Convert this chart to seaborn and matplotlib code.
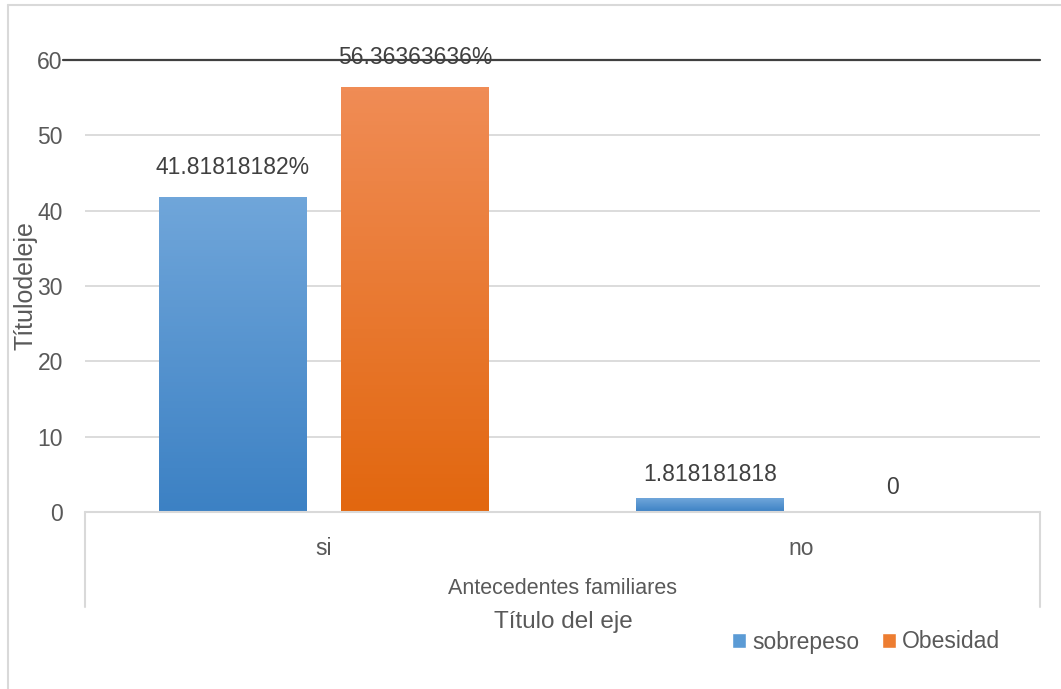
import numpy as np
import pandas as pd
import matplotlib
matplotlib.use("Agg")
import matplotlib.pyplot as plt
import seaborn as sns
from matplotlib.lines import Line2D
from matplotlib.patches import Patch
from matplotlib.colors import LinearSegmentedColormap

# data
categories = ["si", "no"]
series = ["sobrepeso", "Obesidad"]
sobrepeso = [41.81818182, 1.818181818]
obesidad = [56.36363636, 0]
labels_sobrepeso = ["41.81818182%", "1.818181818"]
labels_obesidad = ["56.36363636%", "0"]
yticks = [0, 10, 20, 30, 40, 50, 60]

df = pd.DataFrame({
    "cat": categories * 2,
    "serie": [series[0]] * 2 + [series[1]] * 2,
    "val": sobrepeso + obesidad,
})

sns.set_style("white")
plt.rcParams["font.family"] = ["Liberation Sans", "DejaVu Sans"]

W, H = 1061, 689
fig = plt.figure(figsize=(W / 100, H / 100), dpi=100)
ax = fig.add_axes([85 / W, 1 - 512 / H, (1040 - 85) / W, (512 - 60) / H])

flat = {"sobrepeso": "#5b9bd5", "Obesidad": "#ed7d31"}
grad = {"sobrepeso": ("#3c81c4", "#70a6da"), "Obesidad": ("#e2670f", "#f08c55")}

sns.barplot(data=df, x="cat", y="val", hue="serie", hue_order=series,
            order=categories, palette=flat, width=0.764, gap=0.19,
            legend=False, ax=ax, zorder=3)

ax.set_yticks(yticks)
for y in yticks[1:-1]:
    ax.axhline(y, color="#d9d9d9", lw=1.3, zorder=1)
ax.axhline(60, xmin=-0.023, xmax=1, color="#404040", lw=1.6, clip_on=False, zorder=4)
for s in ax.spines.values():
    s.set_visible(False)
ax.tick_params(axis="both", length=0, labelsize=16.5, labelcolor="#595959")
ax.tick_params(axis="y", pad=16)
ax.tick_params(axis="x", pad=18)
ax.set_xlabel("")
ax.set_ylabel("")

# gradient fill + data labels
bar_labels = labels_sobrepeso + labels_obesidad
bar_series = [series[0]] * 2 + [series[1]] * 2
for patch, lab, ser in zip(ax.patches, bar_labels, bar_series):
    x0, y0 = patch.get_x(), patch.get_y()
    w, h = patch.get_width(), patch.get_height()
    if h > 0:
        cmap = LinearSegmentedColormap.from_list("g", grad[ser])
        im = ax.imshow(np.linspace(0, 1, 100).reshape(-1, 1), cmap=cmap,
                       extent=[x0, x0 + w, y0, y0 + h], origin="lower",
                       aspect="auto", zorder=3)
        im.set_clip_path(patch)
        patch.set_facecolor("none")
    patch.set_edgecolor("none")
    ax.annotate(lab, (x0 + w / 2, y0 + h), xytext=(0, 13 if h > 5 else 9),
                textcoords="offset points", ha="center", va="bottom",
                fontsize=16.5, color="#404040", annotation_clip=False, zorder=5)
ax.set_aspect("auto")
ax.set_xlim(-0.5, 1.5)
ax.set_ylim(0, 60)

# category box
gc = "#d9d9d9"
fig.add_artist(Line2D([85 / W, 1040 / W], [1 - 512 / H] * 2, color=gc, lw=1.5))
for xp in (85, 1040):
    fig.add_artist(Line2D([xp / W] * 2, [1 - 512 / H, 1 - 607 / H], color=gc, lw=1.5))

# outer frame
fig.add_artist(Line2D([8 / W, 8 / W], [0, 1 - 5 / H], color=gc, lw=1.5))
fig.add_artist(Line2D([8 / W, 1], [1 - 5 / H] * 2, color=gc, lw=1.5))

fig.text(563 / W, 1 - 589 / H, "Antecedentes familiares", ha="center", va="center",
         fontsize=15.5, color="#595959")
fig.text(563 / W, 1 - 622 / H, "Título del eje", ha="center", va="center",
         fontsize=17.5, color="#595959")
fig.text(26 / W, 1 - 286 / H, "Títulodeleje", ha="center", va="center", rotation=90,
         fontsize=18, color="#595959")

handles = [Patch(facecolor=flat[s], label=s) for s in series]
fig.legend(handles=handles, loc="center", bbox_to_anchor=(866 / W, 1 - 642 / H),
           ncol=2, frameon=False, fontsize=16.5, handlelength=0.6, handleheight=0.6,
           handletextpad=0.25, columnspacing=1.0, labelcolor="#595959")

fig.savefig("out.png", dpi=100)
